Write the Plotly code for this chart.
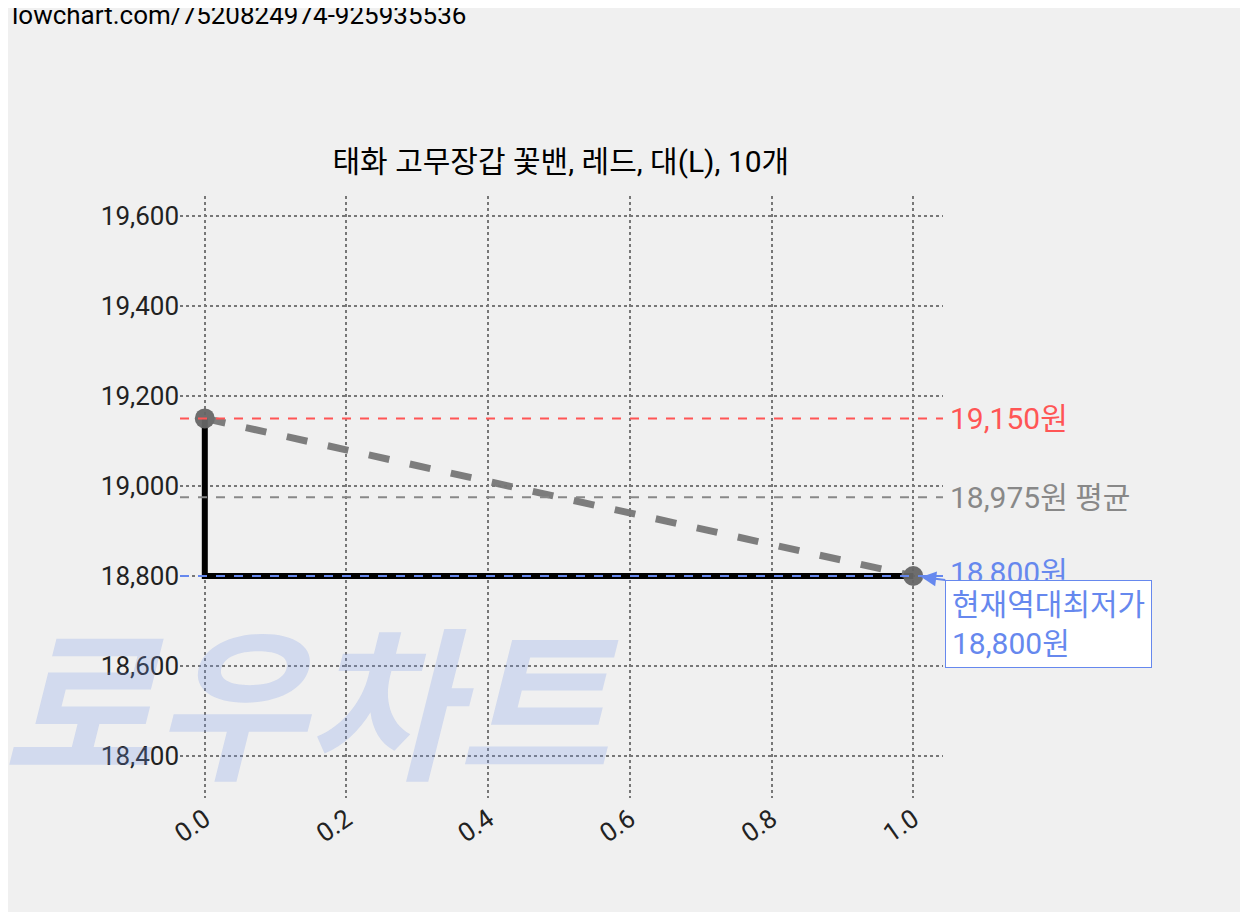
import plotly.graph_objects as go

x_vals = [0.0, 1.0]
prices = [19150, 18800]
step_x = [0.0, 0.0, 1.0]
step_y = [19150, 18800, 18800]
max_price = 19150
avg_price = 18975
min_price = 18800
title = "태화 고무장갑 꽃밴, 레드, 대(L), 10개"
xticks = [0.0, 0.2, 0.4, 0.6, 0.8, 1.0]
yticks = [18400, 18600, 18800, 19000, 19200, 19400, 19600]

F = "Roboto, Noto Sans CJK KR"
fig = go.Figure()
fig.add_annotation(x=0.17, xref="paper", y=0.17, yref="paper", text="<b><i>로우차트</i></b>", showarrow=False,
                   xanchor="center", yanchor="middle", font=dict(size=165, color="rgba(120,150,230,0.25)", family="Noto Sans CJK KR"))
fig.add_trace(go.Scatter(x=step_x, y=step_y, mode="lines", line=dict(color="black", width=6), hoverinfo="skip"))
fig.add_trace(go.Scatter(x=x_vals, y=prices, mode="lines+markers", line=dict(color="#777777", width=7, dash="dash"),
                         marker=dict(size=20, color="#666666"), opacity=0.95))
for v, c in [(max_price, "#ff5555"), (avg_price, "#888888"), (min_price, "#6688ee")]:
    fig.add_hline(y=v, line=dict(color=c, width=2, dash="dash"))
fig.add_annotation(x=1, xref="paper", y=max_price, text=f"{max_price:,}원", showarrow=False, xanchor="left", xshift=5,
                   font=dict(color="#ff5555", size=30, family=F))
fig.add_annotation(x=1, xref="paper", y=avg_price, text=f"{avg_price:,}원 평균", showarrow=False, xanchor="left", xshift=5,
                   font=dict(color="#888888", size=30, family=F))
fig.add_annotation(x=1, xref="paper", y=min_price, text=f"{min_price:,}원", showarrow=False, xanchor="left", xshift=5, yshift=4,
                   font=dict(color="#6688ee", size=30, family=F))
fig.add_annotation(x=1.0, y=min_price, text=f"현재역대최저가<br>{min_price:,}원", showarrow=True, arrowhead=2, arrowcolor="#6688ee",
                   arrowsize=1.5, arrowwidth=2, standoff=8,
                   ax=32, ay=4, axref="pixel", ayref="pixel", xanchor="left", yanchor="top", align="left",
                   bgcolor="white", bordercolor="#6688ee", borderwidth=1, borderpad=6,
                   font=dict(color="#6688ee", size=30, family=F))
fig.add_annotation(x=-172/763, xref="paper", y=1.30, yref="paper", text="lowchart.com/7520824974-925935536", showarrow=False,
                   xanchor="left", yanchor="middle", xshift=2, font=dict(size=26, color="black", family=F))
fig.update_layout(
    width=1248, height=912, showlegend=False,
    paper_bgcolor="#f0f0f0", plot_bgcolor="#f0f0f0",
    margin=dict(l=172, r=313, t=188, b=122),
    title=dict(text=title, x=0.443, xanchor="center", y=0.832, yanchor="middle", font=dict(size=30, family=F, color="black")),
    font=dict(family=F, size=26, color="#222222"),
)
fig.update_xaxes(range=[-0.035, 1.042], tickvals=xticks, ticktext=[f"{t:.1f}" for t in xticks], tickangle=-35,
                 showgrid=True, gridcolor="#777777", griddash="dot", gridwidth=2, zeroline=False, showline=False)
fig.update_yaxes(range=[18307, 19644], tickvals=yticks, ticktext=[f"{t:,}" for t in yticks],
                 showgrid=True, gridcolor="#777777", griddash="dot", gridwidth=2, zeroline=False, showline=False)
fig.write_html("out.html")
